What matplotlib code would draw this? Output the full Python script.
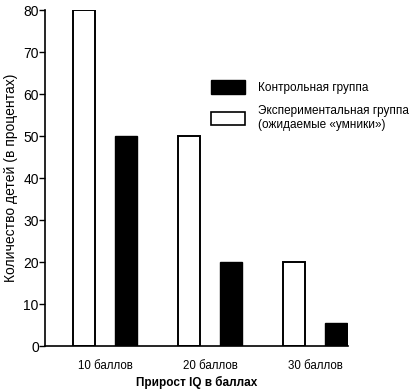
import matplotlib
matplotlib.use("Agg")
import matplotlib.pyplot as plt
import numpy as np
from matplotlib.patches import Patch

plt.rcParams['font.family'] = ['Liberation Sans', 'DejaVu Sans']

# data
categories = ["10 баллов", "20 баллов", "30 баллов"]
experimental = [80, 50, 20]
control = [50, 20, 5.5]
y_ticks = [0, 10, 20, 30, 40, 50, 60, 70, 80]

fig = plt.figure(figsize=(4.14, 3.92), dpi=100)
ax = fig.add_axes([0.1087, 0.1173, 0.732, 0.857])

x = np.arange(len(categories))
width = 0.21
ax.bar(x - 0.2, experimental, width, facecolor='white', edgecolor='black', linewidth=1.4)
ax.bar(x + 0.2, control, width, facecolor='black', edgecolor='black', linewidth=1.0)

ax.set_xlim(-0.571, 2.314)
ax.set_ylim(0, 80)
ax.set_yticks(y_ticks)
ax.set_xticks(x)
ax.set_xticklabels(categories, fontsize=8.3)
ax.tick_params(axis='x', length=0, pad=10)
ax.tick_params(axis='y', length=4, width=1, direction='out', labelsize=10, pad=0.5)

for side in ['top', 'right']:
    ax.spines[side].set_visible(False)
for side in ['left', 'bottom']:
    ax.spines[side].set_linewidth(1.2)

ax.set_ylabel("Количество детей (в процентах)", fontsize=10, labelpad=4)
ax.set_xlabel("Прирост IQ в баллах", fontsize=8.5, fontweight='bold')
ax.xaxis.set_label_coords(0.5, -0.088)

handles = [Patch(facecolor='black', edgecolor='black'),
           Patch(facecolor='white', edgecolor='black', linewidth=1.2)]
labels = ["Контрольная группа", "Экспериментальная группа\n(ожидаемые «умники»)"]
ax.legend(handles, labels, loc='upper left', bbox_to_anchor=(0.495, 0.81),
          bbox_transform=fig.transFigure, frameon=False, fontsize=8.5,
          handlelength=2.9, handleheight=1.35, handletextpad=1.1,
          labelspacing=0.95, borderpad=0)

fig.savefig("out.png", dpi=100)
